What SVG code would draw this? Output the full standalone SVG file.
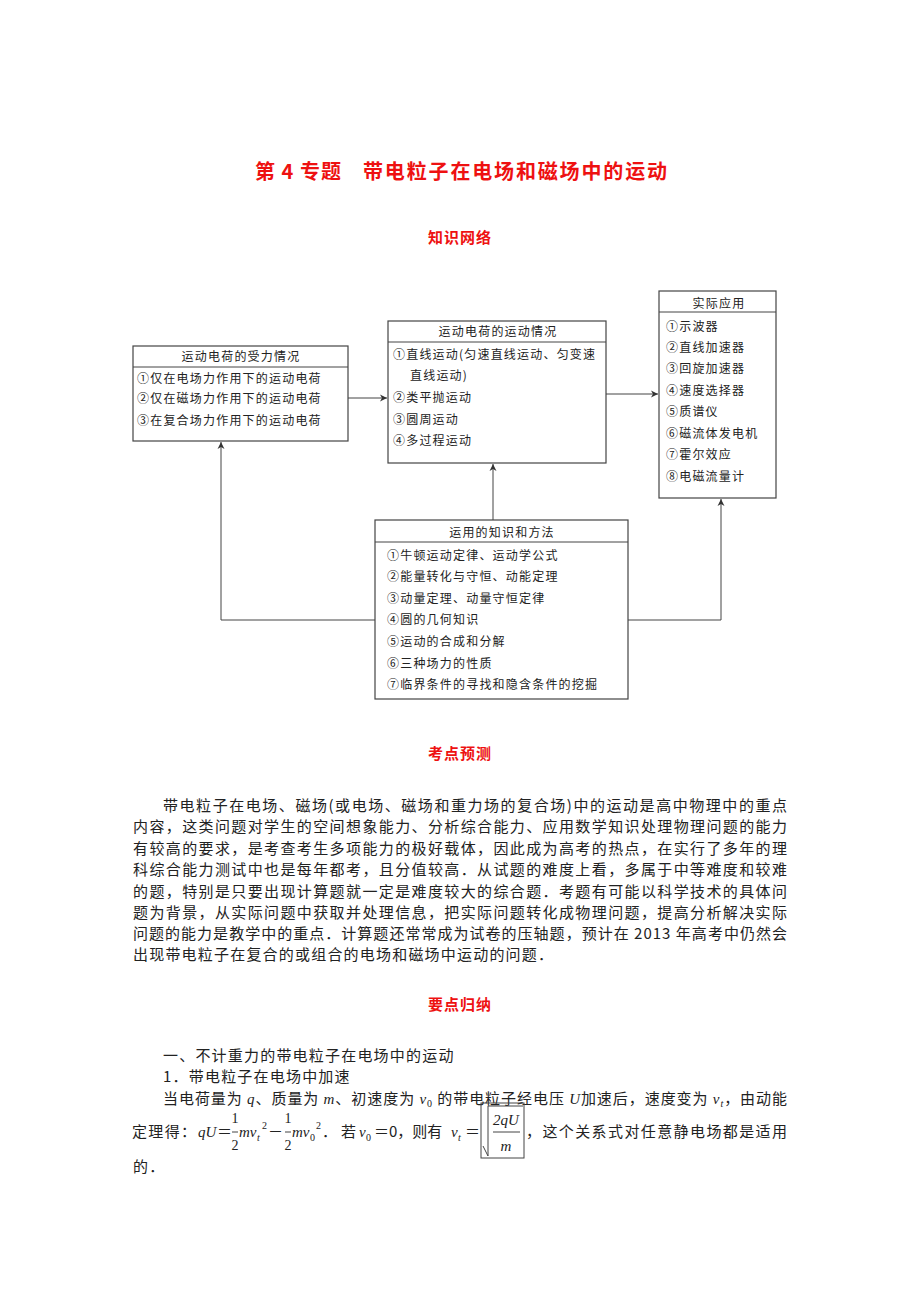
<svg xmlns="http://www.w3.org/2000/svg" width="920" height="1302" viewBox="0 0 920 1302">
<style>
text{font-family:"Noto Sans CJK SC","Noto Sans",sans-serif;fill:#222}
.red{fill:#ee1111}
.title{font-size:20px;font-weight:bold}
.h{font-size:15px;font-weight:bold;letter-spacing:1px;text-anchor:middle}
.b{font-size:12px;letter-spacing:1.2px}
.bh{font-size:12px;letter-spacing:1.2px;text-anchor:middle}
.box{fill:#fff;stroke:#444;stroke-width:1.2}
.sep{stroke:#444;stroke-width:1}
.con{fill:none;stroke:#444;stroke-width:1;marker-end:url(#ah)}
.p{font-size:15px}
.i{font-family:"Liberation Serif",serif;font-style:italic}
.m{font-family:"Liberation Serif",serif;font-size:14px;text-anchor:middle}
.sub{font-family:"Liberation Serif",serif;font-size:10px}
</style>
<defs>
<marker id="ah" markerWidth="8" markerHeight="8" refX="7" refY="4" orient="auto" markerUnits="userSpaceOnUse">
<path d="M0,0.5 L7,4 L0,7.5 L2,4 z" fill="#333"/>
</marker>
</defs>
<rect width="920" height="1302" fill="#fff"/>

<g id="title">
<text class="title red" x="255" y="179" textLength="86" lengthAdjust="spacing">第 4 专题</text>
<text class="title red" x="363" y="179" textLength="304" lengthAdjust="spacing">带电粒子在电场和磁场中的运动</text>
<text class="h red" x="460" y="243">知识网络</text>
</g>

<g id="connectors">
<line class="con" x1="348" y1="398" x2="387" y2="398"/>
<line class="con" x1="606" y1="394" x2="658" y2="394"/>
<line class="con" x1="493" y1="520" x2="493" y2="464"/>
<polyline class="con" points="375,620 221,620 221,442"/>
<polyline class="con" points="628,620 721,620 721,499"/>
</g>

<g id="node-force">
<rect class="box" x="133" y="346" width="215" height="95"/>
<line class="sep" x1="133" y1="367" x2="348" y2="367"/>
<text class="bh" x="241" y="360.5">运动电荷的受力情况</text>
<text class="b" x="137" y="382.5">①仅在电场力作用下的运动电荷</text>
<text class="b" x="137" y="403">②仅在磁场力作用下的运动电荷</text>
<text class="b" x="137" y="425">③在复合场力作用下的运动电荷</text>
</g>

<g id="node-motion">
<rect class="box" x="388" y="321" width="218" height="142"/>
<line class="sep" x1="388" y1="342" x2="606" y2="342"/>
<text class="bh" x="498" y="336">运动电荷的运动情况</text>
<text class="b" x="393" y="358.5">①直线运动(匀速直线运动、匀变速</text>
<text class="b" x="410" y="379.5">直线运动)</text>
<text class="b" x="393" y="401.5">②类平抛运动</text>
<text class="b" x="393" y="423.5">③圆周运动</text>
<text class="b" x="393" y="444.5">④多过程运动</text>
</g>

<g id="node-app">
<rect class="box" x="659" y="291" width="117" height="207"/>
<line class="sep" x1="659" y1="312" x2="776" y2="312"/>
<text class="bh" x="719" y="308">实际应用</text>
<text class="b" x="666" y="331">①示波器</text>
<text class="b" x="666" y="352">②直线加速器</text>
<text class="b" x="666" y="373">③回旋加速器</text>
<text class="b" x="666" y="395">④速度选择器</text>
<text class="b" x="666" y="416">⑤质谱仪</text>
<text class="b" x="666" y="438">⑥磁流体发电机</text>
<text class="b" x="666" y="459">⑦霍尔效应</text>
<text class="b" x="666" y="481">⑧电磁流量计</text>
</g>

<g id="node-method">
<rect class="box" x="375" y="520" width="253" height="179"/>
<line class="sep" x1="375" y1="542" x2="628" y2="542"/>
<text class="bh" x="502" y="537">运用的知识和方法</text>
<text class="b" x="387" y="559.5">①牛顿运动定律、运动学公式</text>
<text class="b" x="387" y="581">②能量转化与守恒、动能定理</text>
<text class="b" x="387" y="602.5">③动量定理、动量守恒定律</text>
<text class="b" x="387" y="624">④圆的几何知识</text>
<text class="b" x="387" y="646">⑤运动的合成和分解</text>
<text class="b" x="387" y="667.5">⑥三种场力的性质</text>
<text class="b" x="387" y="689">⑦临界条件的寻找和隐含条件的挖掘</text>
</g>

<g id="forecast">
<text class="h red" x="460" y="759">考点预测</text>
<text class="p" x="163" y="810.5" textLength="624" lengthAdjust="spacing">带电粒子在电场、磁场(或电场、磁场和重力场的复合场)中的运动是高中物理中的重点</text>
<text class="p" x="133" y="832" textLength="654" lengthAdjust="spacing">内容，这类问题对学生的空间想象能力、分析综合能力、应用数学知识处理物理问题的能力</text>
<text class="p" x="133" y="853.5" textLength="654" lengthAdjust="spacing">有较高的要求，是考查考生多项能力的极好载体，因此成为高考的热点，在实行了多年的理</text>
<text class="p" x="133" y="875" textLength="654" lengthAdjust="spacing">科综合能力测试中也是每年都考，且分值较高．从试题的难度上看，多属于中等难度和较难</text>
<text class="p" x="133" y="896.5" textLength="654" lengthAdjust="spacing">的题，特别是只要出现计算题就一定是难度较大的综合题．考题有可能以科学技术的具体问</text>
<text class="p" x="133" y="918" textLength="654" lengthAdjust="spacing">题为背景，从实际问题中获取并处理信息，把实际问题转化成物理问题，提高分析解决实际</text>
<text class="p" x="133" y="939" textLength="654" lengthAdjust="spacing">问题的能力是教学中的重点．计算题还常常成为试卷的压轴题，预计在 2013 年高考中仍然会</text>
<text class="p" x="133" y="959.5" style="letter-spacing:1.2px">出现带电粒子在复合的或组合的电场和磁场中运动的问题．</text>
</g>

<g id="summary">
<text class="h red" x="460" y="1010">要点归纳</text>
<text class="p" x="163" y="1060.5" style="letter-spacing:1.2px">一、不计重力的带电粒子在电场中的运动</text>
<text class="p" x="163" y="1082" style="letter-spacing:1.2px">1．带电粒子在电场中加速</text>
<text class="p" x="163" y="1104" textLength="624" lengthAdjust="spacing">当电荷量为 <tspan class="i">q</tspan>、质量为 <tspan class="i">m</tspan>、初速度为 <tspan class="i">v</tspan><tspan class="sub" dy="3">0</tspan><tspan dy="-3"> 的带电粒子经电压 </tspan><tspan class="i">U</tspan>加速后，速度变为 <tspan class="i">v</tspan><tspan class="sub i" dy="3">t</tspan><tspan dy="-3">，由动能</tspan></text>

<text class="p" x="132" y="1137" textLength="64" lengthAdjust="spacing">定理得：</text>
<text class="p i" x="198" y="1137">qU</text>
<text class="p" x="217" y="1137">＝</text>
<text class="m" x="235" y="1123">1</text>
<line class="sep" x1="232" y1="1132" x2="238" y2="1132"/>
<text class="m" x="235" y="1150">2</text>
<text class="p i" x="239" y="1137">mv</text>
<text class="sub i" x="257" y="1141">t</text>
<text class="sub" x="262" y="1129">2</text>
<text class="p" x="268" y="1137">－</text>
<text class="m" x="288" y="1123">1</text>
<line class="sep" x1="285" y1="1132" x2="291" y2="1132"/>
<text class="m" x="288" y="1150">2</text>
<text class="p i" x="292" y="1137">mv</text>
<text class="sub" x="310" y="1141">0</text>
<text class="sub" x="316" y="1129">2</text>
<text class="p" x="322" y="1137">．</text>
<text class="p" x="341" y="1137">若</text>
<text class="p i" x="359" y="1137">v</text>
<text class="sub" x="366" y="1141">0</text>
<text class="p" x="374" y="1137">＝0，则有</text>
<text class="p i" x="451" y="1137">v</text>
<text class="sub i" x="458" y="1141">t</text>
<text class="p" x="465" y="1137">＝</text>
<rect x="481" y="1103" width="43" height="55" fill="none" stroke="#444" stroke-width="1"/>
<polyline points="483,1146 488,1156 488,1106 523,1106" fill="none" stroke="#444" stroke-width="1"/>
<text class="p i" x="506" y="1125" text-anchor="middle">2qU</text>
<line class="sep" x1="493" y1="1132" x2="520" y2="1132"/>
<text class="p i" x="506" y="1151" text-anchor="middle">m</text>
<text class="p" x="526" y="1137" textLength="261" lengthAdjust="spacing">，这个关系式对任意静电场都是适用</text>
<text class="p" x="133" y="1172" style="letter-spacing:1.2px">的．</text>
</g>
</svg>
